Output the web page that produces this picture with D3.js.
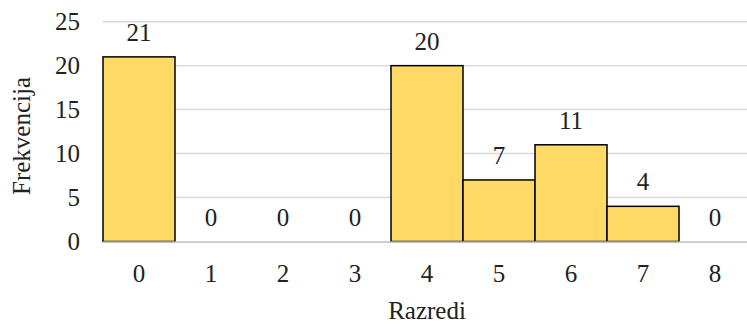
<!DOCTYPE html>
<html><head><meta charset="utf-8">
<script src="https://cdn.jsdelivr.net/npm/d3@7"></script>
<style>html,body{margin:0;padding:0;background:#fff;overflow:hidden}</style>
</head><body>
<svg id="c" width="747" height="324"></svg>
<script>
const categories = ["0","1","2","3","4","5","6","7","8"];
const values = [21,0,0,0,20,7,11,4,0];
const yTicks = [0,5,10,15,20,25];
const xTitle = "Razredi";
const yTitle = "Frekvencija";

const svg = d3.select("#c");
const font = "'Liberation Serif','Times New Roman',serif";
const fs = 25;
const x = d3.scaleBand().domain(categories).range([103, 751]).padding(0);
const y = d3.scaleLinear().domain([0,25]).range([241.5, 21.7]);

svg.append("rect").attr("width",747).attr("height",324).attr("fill","#fff");

// gridlines
svg.append("g").selectAll("line").data(yTicks.filter(d=>d>0)).join("line")
  .attr("x1",103).attr("x2",751).attr("y1",d=>y(d)).attr("y2",d=>y(d))
  .attr("stroke","#d9d9d9").attr("stroke-width",1.5);

// bars
svg.append("g").selectAll("rect").data(values.map((v,i)=>({c:categories[i],v})).filter(d=>d.v>0)).join("rect")
  .attr("x",d=>x(d.c)).attr("width",x.bandwidth())
  .attr("y",d=>y(d.v)).attr("height",d=>y(0)-y(d.v))
  .attr("fill","#ffd966").attr("stroke","#000").attr("stroke-width",1.5);

// x axis line
svg.append("line").attr("x1",103).attr("x2",751).attr("y1",y(0)+0.5).attr("y2",y(0)+0.5)
  .attr("stroke","#bfbfbf").attr("stroke-width",1.5);

// value labels
svg.append("g").selectAll("text").data(values.map((v,i)=>({c:categories[i],v}))).join("text")
  .attr("x",d=>x(d.c)+x.bandwidth()/2).attr("y",d=>y(d.v)-16)
  .attr("text-anchor","middle").attr("font-family",font).attr("font-size",fs).attr("fill","#222")
  .text(d=>d.v);

// y tick labels
svg.append("g").selectAll("text").data(yTicks).join("text")
  .attr("x",80).attr("y",d=>y(d)).attr("dy","0.34em")
  .attr("text-anchor","end").attr("font-family",font).attr("font-size",fs).attr("fill","#222")
  .text(d=>d);

// x tick labels
svg.append("g").selectAll("text").data(categories).join("text")
  .attr("x",d=>x(d)+x.bandwidth()/2).attr("y",282)
  .attr("text-anchor","middle").attr("font-family",font).attr("font-size",fs).attr("fill","#222")
  .text(d=>d);

svg.append("text").attr("x",427).attr("y",319).attr("text-anchor","middle")
  .attr("font-family",font).attr("font-size",fs).attr("fill","#222").text(xTitle);

svg.append("text").attr("transform","translate(30,136) rotate(-90)").attr("text-anchor","middle")
  .attr("font-family",font).attr("font-size",fs).attr("fill","#222").text(yTitle);
</script>
</body></html>
